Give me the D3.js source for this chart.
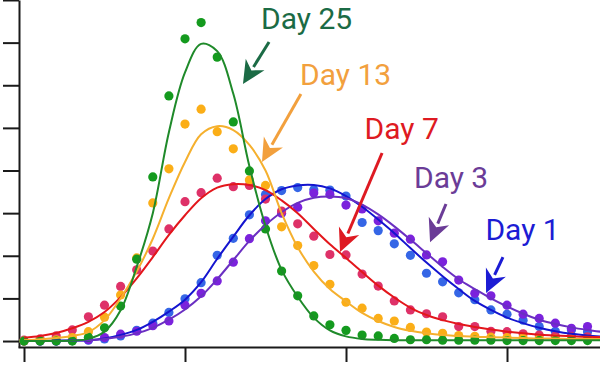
<!DOCTYPE html>
<html>
<head>
<meta charset="utf-8">
<script src="https://cdn.jsdelivr.net/npm/d3@7"></script>
<style>
  html, body { margin: 0; padding: 0; background: #fff; }
  svg { display: block; }
</style>
</head>
<body>
<div id="chart"></div>
<script>
// Sample positions (time bins), same for every series
const sampleIdx = [0,1,2,3,4,5,6,7,8,9,10,11,12,13,14,15,16,17,18,19,20,21,22,23,24,25,26,27,28,29,30,31,32,33,34,35];
const fitIdx    = [0,1,2,3,4,5,6,7,8,9,10,11,12,13,14,15,16,17,18,19,20,21,22,23,24,25,26,27,28,29,30,31,32,33,34,35,36];

// Measured points
const day1Pts  = [0,0,0,0.01,0.02,0.05,0.12,0.25,0.42,0.67,0.99,1.37,2.01,2.41,2.96,3.44,3.53,3.6,3.55,3.54,3.4,2.78,2.59,2.28,2.01,1.59,1.39,1.13,0.97,0.73,0.63,0.49,0.34,0.23,0.26,0.22];
const day3Pts  = [0,0,0,0.01,0.03,0.08,0.16,0.23,0.36,0.47,0.84,1.12,1.41,1.85,2.4,2.82,3.0,3.14,3.47,3.44,3.19,3.1,2.82,2.53,2.39,2.02,1.86,1.43,1.12,1.06,0.84,0.63,0.53,0.42,0.3,0.34];
const day7Pts  = [0.02,0.05,0.12,0.26,0.57,0.84,1.28,1.67,2.11,2.63,3.27,3.48,3.82,3.62,3.65,3.33,3.05,2.75,2.46,2.03,2.02,1.57,1.29,0.94,0.73,0.64,0.57,0.34,0.34,0.23,0.22,0.17,0.14,0.12,0.11,0.1];
const day13Pts = [0,0.01,0.03,0.08,0.22,0.56,1.08,1.95,3.24,4.04,5.09,5.44,4.91,4.51,3.78,3.65,2.68,2.24,1.77,1.33,0.91,0.77,0.53,0.47,0.32,0.21,0.18,0.13,0.11,0.09,0.08,0.07,0.06,0.05,0.05,0.04];
const day25Pts = [0,0,0,0,0.09,0.31,0.82,1.92,3.85,5.75,7.09,7.47,6.66,5.14,3.99,2.63,1.64,1.06,0.59,0.38,0.25,0.14,0.12,0.06,0.03,0.03,0.02,0.02,0.02,0.02,0.01,0.01,0.01,0.01,0.01,0.01];

// Fitted curves
const day1Fit  = [0,0,0.01,0.01,0.02,0.06,0.14,0.26,0.45,0.69,0.97,1.38,1.93,2.45,2.95,3.33,3.56,3.65,3.66,3.58,3.4,3.15,2.85,2.53,2.18,1.84,1.52,1.22,0.94,0.73,0.55,0.42,0.31,0.23,0.17,0.13,0.1];
const day3Fit  = [0,0,0,0.01,0.02,0.05,0.1,0.18,0.31,0.5,0.74,1.05,1.45,1.9,2.35,2.72,3.02,3.24,3.36,3.39,3.35,3.2,2.97,2.69,2.38,2.06,1.74,1.45,1.22,1.0,0.81,0.64,0.5,0.4,0.32,0.26,0.21];
const day7Fit  = [0.08,0.12,0.19,0.3,0.45,0.68,1.03,1.47,1.97,2.49,2.95,3.35,3.6,3.68,3.66,3.54,3.3,3.0,2.63,2.27,1.95,1.62,1.3,1.02,0.78,0.61,0.49,0.4,0.33,0.27,0.22,0.18,0.15,0.13,0.11,0.1,0.09];
const day13Fit = [0.02,0.04,0.07,0.12,0.21,0.49,1.0,1.63,2.4,3.35,4.2,4.85,5.04,4.95,4.6,4.0,3.0,2.2,1.63,1.22,0.93,0.66,0.47,0.33,0.24,0.18,0.14,0.12,0.1,0.09,0.08,0.07,0.06,0.06,0.05,0.05,0.05];
const day25Fit = [0,0,0,0.01,0.05,0.22,0.72,1.74,3.0,4.9,6.3,6.97,6.8,5.8,4.1,2.7,1.67,1.04,0.55,0.25,0.11,0.05,0.03,0.02,0.02,0.02,0.02,0.02,0.02,0.02,0.02,0.02,0.02,0.02,0.02,0.02,0.02];

const seriesNames = ["Day 1", "Day 3", "Day 7", "Day 13", "Day 25"];

// Label anchor + arrow (start -> tip), in data units
const labelPos   = [[28.66, 2.37], [24.22, 3.58], [21.15, 4.73], [17.14, 6.01], [14.72, 7.31]];
const arrowStart = [[29.75, 1.97], [26.21, 3.215], [22.24, 4.41], [17.20, 5.795], [15.22, 7.015]];
const arrowTip   = [[28.70, 1.127], [25.22, 2.32], [19.63, 2.09], [14.78, 4.20], [13.60, 6.03]];

const yTicks = [0,1,2,3,4,5,6,7,8];
const xTicks = [0,10,20,30];

// Styles
const dotColor   = ["#3566e6", "#7b22dc", "#de3168", "#fbae17", "#149a1e"];
const lineColor  = ["#1414cf", "#6a2fc2", "#e3161b", "#f5b02e", "#1f8a2a"];
const labelColor = ["#1c1cd4", "#6b3c97", "#de1a22", "#f2a03d", "#1b6b45"];

const width = 600, height = 370;

const pts = [day1Pts, day3Pts, day7Pts, day13Pts, day25Pts];
const fits = [day1Fit, day3Fit, day7Fit, day13Fit, day25Fit];

const svg = d3.select("#chart").append("svg")
  .attr("width", width)
  .attr("height", height);

const x = d3.scaleLinear().domain([-0.373, 35.776]).range([18, 600]);
const y = d3.scaleLinear().domain([-0.14, 8]).range([347, 0]);

// Axes
const gy = svg.append("g")
  .attr("transform", "translate(19,0)")
  .call(d3.axisLeft(y).tickValues(yTicks).tickSizeInner(16).tickSizeOuter(0).tickFormat(""));
const gx = svg.append("g")
  .attr("transform", "translate(0,347)")
  .call(d3.axisBottom(x).tickValues(xTicks).tickSizeInner(15).tickSizeOuter(0).tickFormat(""));
[gx, gy].forEach(g => {
  g.selectAll("path, line").attr("stroke", "#1a1a1a").attr("stroke-width", 2);
});

// Dots
seriesNames.forEach((name, s) => {
  svg.append("g")
    .selectAll("circle")
    .data(sampleIdx.map((i, k) => ({ i, v: pts[s][k] })))
    .join("circle")
    .attr("cx", d => x(d.i))
    .attr("cy", d => y(d.v))
    .attr("r", 4.6)
    .attr("fill", dotColor[s]);
});

// Fit curves
const line = d3.line()
  .x(d => x(d.i))
  .y(d => y(d.v))
  .curve(d3.curveCatmullRom.alpha(0.5));

seriesNames.forEach((name, s) => {
  svg.append("path")
    .datum(fitIdx.map((i, k) => ({ i, v: fits[s][k] })))
    .attr("d", line)
    .attr("fill", "none")
    .attr("stroke", lineColor[s])
    .attr("stroke-width", 2);
});

// Labels with arrows
seriesNames.forEach((name, s) => {
  const x0 = x(arrowStart[s][0]), y0 = y(arrowStart[s][1]);
  const x1 = x(arrowTip[s][0]),   y1 = y(arrowTip[s][1]);
  const ang = Math.atan2(y1 - y0, x1 - x0);
  const L = 23, W = 11, notch = 7;
  const ux = Math.cos(ang), uy = Math.sin(ang);
  const px = -uy, py = ux;
  const bx = x1 - ux * L, by = y1 - uy * L;

  svg.append("line")
    .attr("x1", x0).attr("y1", y0)
    .attr("x2", x1 - ux * (L - 3)).attr("y2", y1 - uy * (L - 3))
    .attr("stroke", labelColor[s])
    .attr("stroke-width", 3);

  const head = [
    [x1, y1],
    [bx + px * W, by + py * W],
    [x1 - ux * (L - notch), y1 - uy * (L - notch)],
    [bx - px * W, by - py * W]
  ];
  svg.append("path")
    .attr("d", "M" + head.map(p => p.join(",")).join("L") + "Z")
    .attr("fill", labelColor[s]);

  svg.append("text")
    .attr("x", x(labelPos[s][0]))
    .attr("y", y(labelPos[s][1]))
    .attr("fill", labelColor[s])
    .style("font-family", "Roboto, Arial, sans-serif")
    .style("font-size", "30px")
    .text(name);
});
</script>
</body>
</html>
